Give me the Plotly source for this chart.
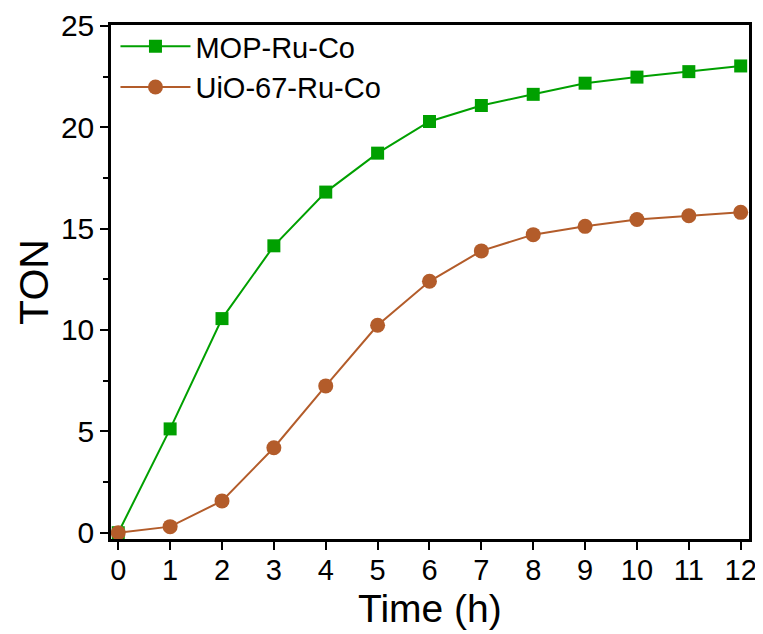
import plotly.graph_objects as go

time_h = [0, 1, 2, 3, 4, 5, 6, 7, 8, 9, 10, 11, 12]
mop_ru_co = [0, 5.12, 10.56, 14.15, 16.8, 18.72, 20.28, 21.07, 21.62, 22.17, 22.47, 22.74, 23.02]
uio_ru_co = [0, 0.3, 1.57, 4.19, 7.24, 10.23, 12.4, 13.9, 14.7, 15.11, 15.45, 15.63, 15.8]

GREEN = "#00A000"
BROWN = "#B35C2A"
FONT = "Liberation Sans, Arial, sans-serif"

fig = go.Figure()
fig.add_trace(go.Scatter(
    x=time_h, y=mop_ru_co, name="MOP-Ru-Co", mode="lines+markers",
    line=dict(color=GREEN, width=2),
    marker=dict(symbol="square", size=13, color=GREEN),
))
fig.add_trace(go.Scatter(
    x=time_h, y=uio_ru_co, name="UiO-67-Ru-Co", mode="lines+markers",
    line=dict(color=BROWN, width=2),
    marker=dict(symbol="circle", size=15, color=BROWN),
))

fig.update_layout(
    width=755, height=626,
    margin=dict(l=103, r=14, t=17, b=95, autoexpand=False),
    paper_bgcolor="white", plot_bgcolor="white",
    font=dict(family=FONT, color="black"),
    showlegend=True,
    legend=dict(
        x=0.007, y=1.008, xanchor="left", yanchor="top",
        bgcolor="rgba(0,0,0,0)", borderwidth=0,
        font=dict(size=29, family=FONT, color="black"),
        itemwidth=70, tracegroupgap=0,
    ),
    annotations=[dict(
        text="Time (h)", xref="paper", yref="paper", x=0.5, y=-69 / 514,
        xanchor="center", yanchor="middle", showarrow=False,
        font=dict(size=39, family=FONT, color="black"),
    )],
)
fig.update_xaxes(
    range=[-0.14, 12.16], tickmode="array", tickvals=time_h,
    ticks="outside", ticklen=8, tickwidth=2, tickcolor="black",
    ticklabelstandoff=-5,
    showline=True, linecolor="black", linewidth=2.5, mirror=True,
    showgrid=False, zeroline=False,
    tickfont=dict(size=29, family=FONT),
)
fig.update_yaxes(
    range=[-0.31, 25.04], tickmode="array", tickvals=[0, 5, 10, 15, 20, 25],
    ticks="outside", ticklen=8, tickwidth=2, tickcolor="black",
    minor=dict(ticks="outside", ticklen=5, tickwidth=2, tickcolor="black", dtick=2.5, tick0=0),
    showline=True, linecolor="black", linewidth=2.5, mirror=True,
    showgrid=False, zeroline=False,
    tickfont=dict(size=30, family=FONT),
    title=dict(text="TON", font=dict(size=41, family=FONT), standoff=0),
)

fig.write_html("out.html")
